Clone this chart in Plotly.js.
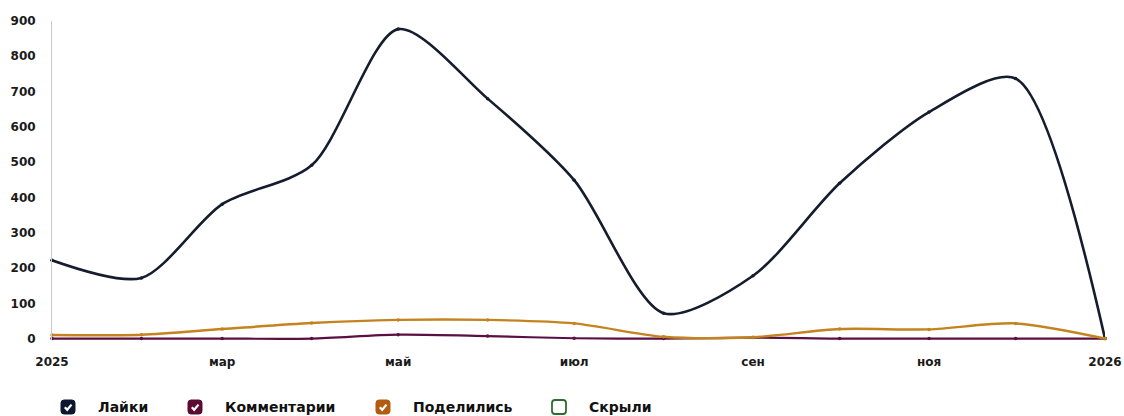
<!DOCTYPE html>
<html>
<head>
<meta charset="utf-8">
<script src="https://cdn.plot.ly/plotly-3.0.1.min.js"></script>
<style>html,body{margin:0;padding:0;background:#fff;}#chart{width:1124px;height:416px;}</style>
</head>
<body>
<div id="chart"></div>
<script>
// ---- data ----
const dates = ['2025-01-01','2025-02-01','2025-03-01','2025-04-01','2025-05-01','2025-06-01','2025-07-01','2025-08-01','2025-09-01','2025-10-01','2025-11-01','2025-12-01','2026-01-01'];
const likes    = [222, 172, 381, 491, 877, 680, 449, 72, 178, 440, 642, 737, 0];
const comments = [0, 0, 0, 0, 11, 7, 1, 0, 3, 0, 0, 0, 0];
const shares   = [10, 11, 27, 44, 53, 53, 43, 5, 4, 27, 26, 43, 0];
const hidden   = [0, 0, 0, 0, 0, 0, 0, 0, 0, 0, 0, 0, 0];
const seriesNames = ['Лайки', 'Комментарии', 'Поделились', 'Скрыли'];
const tickDates = ['2025-01-01','2025-03-01','2025-05-01','2025-07-01','2025-09-01','2025-11-01','2026-01-01'];
const tickLabels = ['2025', 'мар', 'май', 'июл', 'сен', 'ноя', '2026'];
const yTicks = [0, 100, 200, 300, 400, 500, 600, 700, 800, 900];

// ---- style ----
const lineColors = ['#141c2e', '#5a1040', '#c4831f', '#2f6b2f'];
const boxColors  = ['#0c1631', '#5c0b33', '#b25c12', '#2f6b2f'];
const W = 1124, H = 416, ML = 52, MR = 19, MT = 21, MB = 76;
const PW = W - ML - MR, PH = H - MT - MB;
const px2x = p => (p - ML) / PW;
const px2y = p => (H - MB - p) / PH;

const values = [likes, comments, shares, hidden];
const widths = [2.6, 2.2, 2.4, 2];
const traces = values.map((v, i) => ({
  x: dates, y: v, type: 'scatter', mode: 'lines+markers', name: seriesNames[i],
  line: {color: lineColors[i], width: widths[i], shape: 'spline', smoothing: 0.8},
  marker: {color: lineColors[i], size: 3.5},
  cliponaxis: false,
  visible: i === 3 ? 'legendonly' : true,
  hoverinfo: 'x+y+name'
}));

// custom checkbox legend
const boxLeft = [61, 188, 376, 552];
const boxTop = 400, boxSize = 14, r = 3;
const shapes = [], annotations = [];
const P = (x, y) => px2x(x).toFixed(5) + ',' + px2y(y).toFixed(5);
function rr(x0, y0, s, rad) {
  const x1 = x0 + s, y1 = y0 + s;
  return 'M' + P(x0 + rad, y0) + ' L' + P(x1 - rad, y0) + ' Q' + P(x1, y0) + ' ' + P(x1, y0 + rad) +
    ' L' + P(x1, y1 - rad) + ' Q' + P(x1, y1) + ' ' + P(x1 - rad, y1) +
    ' L' + P(x0 + rad, y1) + ' Q' + P(x0, y1) + ' ' + P(x0, y1 - rad) +
    ' L' + P(x0, y0 + rad) + ' Q' + P(x0, y0) + ' ' + P(x0 + rad, y0) + ' Z';
}
seriesNames.forEach((n, i) => {
  const checked = i !== 3;
  shapes.push({type: 'path', xref: 'paper', yref: 'paper', path: rr(boxLeft[i], boxTop, boxSize, r),
    fillcolor: checked ? boxColors[i] : '#ffffff', line: {color: boxColors[i], width: checked ? 1 : 1.8}});
  if (checked) {
    const x0 = boxLeft[i], y0 = boxTop;
    shapes.push({type: 'path', xref: 'paper', yref: 'paper',
      path: 'M' + P(x0 + 3.8, y0 + 7.2) + ' L' + P(x0 + 6.2, y0 + 9.8) + ' L' + P(x0 + 10.5, y0 + 4.6),
      line: {color: '#ffffff', width: 2.2}});
  }
  annotations.push({xref: 'paper', yref: 'paper', x: px2x(boxLeft[i] + 35), y: px2y(boxTop + boxSize / 2),
    xanchor: 'left', yanchor: 'middle', text: n, showarrow: false,
    font: {family: 'DejaVu Sans', size: 14, color: '#111111', weight: 'bold'}});
});

const layout = {
  width: W, height: H,
  margin: {l: ML, r: MR, t: MT, b: MB, pad: 0},
  paper_bgcolor: '#ffffff', plot_bgcolor: '#ffffff',
  showlegend: false,
  xaxis: {type: 'date', range: ['2025-01-01', '2026-01-01'], tickmode: 'array', tickvals: tickDates, ticktext: tickLabels,
    showgrid: false, zeroline: false, showline: false, ticks: '', ticklabelstandoff: 13,
    tickfont: {family: 'DejaVu Sans', size: 12, color: '#1a1a1a', weight: 'bold'}},
  yaxis: {range: [-4, 900], tickmode: 'array', tickvals: yTicks, showgrid: false, zeroline: false,
    showline: true, linecolor: '#c9c9c9', linewidth: 1, ticks: '', ticklabelstandoff: 13,
    tickfont: {family: 'DejaVu Sans', size: 12, color: '#1a1a1a', weight: 'bold'}},
  shapes: shapes, annotations: annotations
};
Plotly.newPlot('chart', traces, layout, {displayModeBar: false, staticPlot: true});
</script>
</body>
</html>
